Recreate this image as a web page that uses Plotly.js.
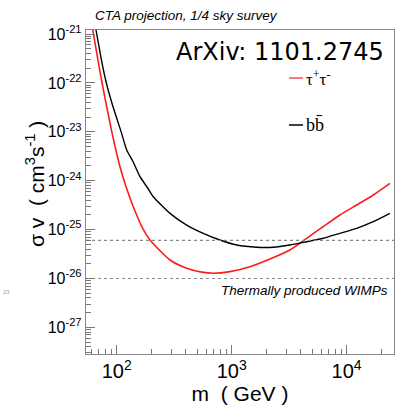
<!DOCTYPE html>
<html>
<head>
<meta charset="utf-8">
<script src="https://cdn.plot.ly/plotly-3.0.1.min.js"></script>
<style>html,body{margin:0;padding:0;background:#fff;}#chart{width:398px;height:406px;}</style>
</head>
<body>
<div id="chart"></div>
<script>
// tau+ tau- channel: mass (GeV), <sigma v> (cm^3 s^-1)
const massTau  = [61.9, 74.1, 90.5, 106.8, 121.7, 139.4, 169.3, 194.8, 290.8, 406, 550, 691.8, 966, 1443, 2153, 3213, 4488, 6259, 8745, 12220, 17030, 23800];
const sigmaTau = [1.21e-21, 1.08e-22, 1.02e-23, 1.93e-24, 7.09e-25, 2.94e-25, 1.03e-25, 6.12e-26, 2.39e-26, 1.62e-26, 1.35e-26, 1.28e-26, 1.38e-26, 1.74e-26, 2.5e-26, 3.83e-26, 6.64e-26, 1.15e-25, 1.99e-25, 3.18e-25, 5.1e-25, 8.85e-25];
// b bbar channel
const massBB  = [66.1, 73.0, 80.7, 91.9, 109, 122.2, 137.8, 159.5, 186, 208.1, 290.8, 406, 566, 791, 1105, 1650, 2300, 3213, 4488, 6259, 8745, 12220, 17030, 23800];
const sigmaBB = [1.21e-21, 3.30e-22, 1.07e-22, 3.53e-23, 1.02e-23, 4.25e-24, 2.53e-24, 1.21e-24, 7.09e-25, 4.71e-25, 2.15e-25, 1.24e-25, 8.4e-26, 6.12e-26, 4.84e-26, 4.35e-26, 4.35e-26, 4.84e-26, 5.66e-26, 6.64e-26, 8.4e-26, 1.06e-25, 1.45e-25, 2.15e-25];
// reference levels (dotted lines)
const refLevels = [6e-26, 1e-26];
// y tick labels
const yTickVals = [1e-27, 1e-26, 1e-25, 1e-24, 1e-23, 1e-22, 1e-21];
const yTickText = ['10<sup>-27</sup>', '10<sup>-26</sup>', '10<sup>-25</sup>', '10<sup>-24</sup>', '10<sup>-23</sup>', '10<sup>-22</sup>', '10<sup>-21</sup>'];

const font = 'Liberation Sans, Arial, sans-serif';
const xRange = [1.733, 4.412];

const traces = [
  {x: massTau, y: sigmaTau, name: 'τ+τ-', mode: 'lines', line: {color: '#ff1a1a', width: 1.6, shape: 'spline', smoothing: 0.6}, showlegend: false},
  {x: massBB, y: sigmaBB, name: 'bb̄', mode: 'lines', line: {color: '#000000', width: 1.4, shape: 'spline', smoothing: 0.6}, showlegend: false}
];
// dotted reference levels drawn as traces across the full x axis span
refLevels.forEach(v => traces.push({
  x: xRange.map(e => Math.pow(10, e)), y: [v, v], mode: 'lines', hoverinfo: 'skip', showlegend: false,
  line: {color: '#888', width: 1.2, dash: 'dot'}
}));

const legendLine = (yPaper, color) => ({
  type: 'line', xref: 'paper', yref: 'paper', x0: (289-86)/308, x1: (303-86)/308, y0: yPaper, y1: yPaper,
  line: {color: color, width: 1.5}
});

const axisCommon = {
  type: 'log', dtick: 1, exponentformat: 'power', showexponent: 'all',
  ticks: 'inside', ticklen: 9, tickcolor: '#777', tickwidth: 1,
  showline: true, linecolor: '#888', linewidth: 1.2, mirror: true,
  showgrid: false, zeroline: false,
  minor: {ticks: 'inside', ticklen: 5, tickcolor: '#777', dtick: 'D1', showgrid: false},
  tickfont: {family: font, size: 16, color: '#000'}
};

const layout = {
  width: 398, height: 406,
  margin: {l: 86, r: 4, t: 30, b: 52},
  paper_bgcolor: '#fff', plot_bgcolor: '#fff',
  showlegend: false,
  title: {text: 'CTA projection, 1/4 sky survey', font: {family: font, size: 13.5, color: '#000', style: 'italic'},
          x: 95/398, xanchor: 'left', xref: 'container', y: 1 - 15/406, yanchor: 'middle', yref: 'container'},
  xaxis: Object.assign({}, axisCommon, {range: xRange,
    title: {text: 'm  ( GeV )', font: {family: font, size: 21, color: '#000'}, standoff: 4}}),
  yaxis: Object.assign({}, axisCommon, {range: [-27.544, -20.918], tickmode: 'array', tickvals: yTickVals, ticktext: yTickText}),
  shapes: [legendLine(1 - 48/324, '#ff4d4d'), legendLine(1 - 95/324, '#000')],
  annotations: [
    {text: 'σ v  ( cm<sup>3</sup>s<sup>-1</sup> )', xref: 'paper', yref: 'paper', x: (35-86)/308, y: 1 - (184-30)/324,
     xanchor: 'center', yanchor: 'middle', textangle: -90, showarrow: false, font: {family: font, size: 21, color: '#000'}},
    {text: 'ArXiv: 1101.2745', xref: 'paper', yref: 'paper', x: 1, y: 1 - 22/324, xanchor: 'right', yanchor: 'middle', xshift: -8,
     showarrow: false, font: {family: 'DejaVu Sans, sans-serif', size: 24, color: '#000'}},
    {text: 'τ<sup>+</sup>τ<sup>-</sup>', xref: 'paper', yref: 'paper', x: (304-86)/308, y: 1 - 48/324,
     xanchor: 'left', yanchor: 'middle', showarrow: false, font: {family: 'Liberation Serif, serif', size: 17, color: '#000'}},
    {text: 'bb̄', xref: 'paper', yref: 'paper', x: (304-86)/308, y: 1 - 95/324,
     xanchor: 'left', yanchor: 'middle', showarrow: false, font: {family: 'Liberation Serif, serif', size: 18, color: '#000'}},
    {text: 'Thermally produced WIMPs', xref: 'paper', yref: 'paper', x: 1, y: 1 - 260/324, xanchor: 'right', yanchor: 'middle', xshift: -4,
     showarrow: false, font: {family: font, size: 13.5, color: '#000', style: 'italic'}},
    {text: '23', xref: 'paper', yref: 'paper', x: (1-86)/308, y: 1 - (292-30)/324, xanchor: 'left', yanchor: 'middle',
     showarrow: false, font: {family: font, size: 6, color: '#999'}}
  ]
};

Plotly.newPlot('chart', traces, layout, {displayModeBar: false, staticPlot: true});
</script>
</body>
</html>
